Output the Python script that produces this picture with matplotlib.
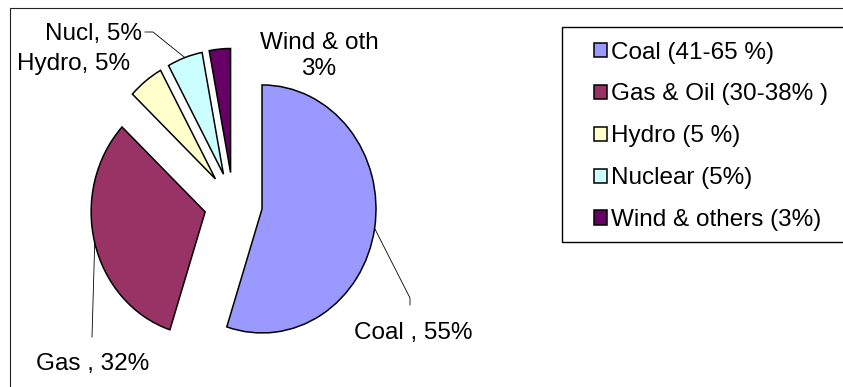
import numpy as np
import matplotlib
matplotlib.use('Agg')
import matplotlib.pyplot as plt
from matplotlib.patches import Rectangle

plt.rcParams['font.family'] = ['Liberation Sans', 'DejaVu Sans']

# Données
sources = ['Coal', 'Gas', 'Hydro', 'Nucl', 'Wind & oth']
shares = [55, 32, 5, 5, 3]
label_texts = ['Coal , 55%', 'Gas , 32%', 'Hydro, 5%', 'Nucl, 5%', 'Wind & oth\n3%']
legend_names = ['Coal (41-65 %)', 'Gas & Oil (30-38% )', 'Hydro (5 %)',
                'Nuclear (5%)', 'Wind & others (3%)']
colors = ['#9999ff', '#993366', '#ffffcc', '#ccffff', '#660066']

# Mise en page (pixels)
W, H = 843, 387
CX, CY = 233.3, 204      # centre du camembert
RX, RY = 114, 124        # rayon horizontal / vertical
FS = 17.5

fig = plt.figure(figsize=(W / 100, H / 100), dpi=100)
ax = fig.add_axes([0, 0, 1, 1])

wedges, _ = ax.pie(shares, colors=colors, startangle=90, counterclock=False,
                   explode=[0.255] * len(shares),
                   wedgeprops=dict(edgecolor='black', linewidth=1.1))
ax.set_aspect('auto')
ax.set_xlim(-CX / RX, (W - CX) / RX)
ax.set_ylim(-(H - CY) / RY, CY / RY)
ax.axis('off')


def px(x, y):
    # pixels image -> coordonnées données
    return (x - CX) / RX, (CY - y) / RY


def bord(w):
    # point sur l'arc au milieu de la part
    t = np.deg2rad((w.theta1 + w.theta2) / 2)
    return w.center[0] + w.r * np.cos(t), w.center[1] + w.r * np.sin(t)


# Étiquettes (ligne de base de la dernière ligne)
pos = [(413, 339, 'center'), (93, 370, 'center'), (17, 70, 'left'),
       (142, 40, 'right'), (319, 75, 'center')]
for txt, (x, y, ha) in zip(label_texts, pos):
    ax.text(*px(x, y), txt, ha=ha, va='baseline', fontsize=FS,
            multialignment='center', linespacing=1.25)

# Lignes de rappel
lk = dict(color='black', lw=0.6)
x0, y0 = bord(wedges[0])
p1, p2 = px(410, 298), px(410, 305)
ax.plot([x0, p1[0], p2[0]], [y0, p1[1], p2[1]], **lk)
x0, y0 = bord(wedges[1])
p1 = px(92, 337)
ax.plot([x0, p1[0]], [y0, p1[1]], **lk)
x0, y0 = bord(wedges[3])
p1, p2 = px(153, 32), px(145, 32)
ax.plot([x0, p1[0], p2[0]], [y0, p1[1], p2[1]], **lk)

# Légende
ax.legend(wedges, legend_names, loc='upper left',
          bbox_to_anchor=(594 / W, 1 - 41.5 / H), bbox_transform=fig.transFigure,
          frameon=False, borderpad=0, borderaxespad=0, fontsize=FS,
          handlelength=0.53, handleheight=0.53, handletextpad=0.15,
          labelspacing=0.82)


def rect(x1, y1, x2, y2, **kw):
    fig.add_artist(Rectangle((x1 / W, 1 - y2 / H), (x2 - x1) / W, (y2 - y1) / H,
                             transform=fig.transFigure, fill=False, **kw))


rect(562, 27, W + 10, 242, edgecolor='black', lw=1.0)
rect(10, 8, W + 10, H + 10, edgecolor='#222222', lw=0.8)

fig.savefig('out.png', dpi=100)
